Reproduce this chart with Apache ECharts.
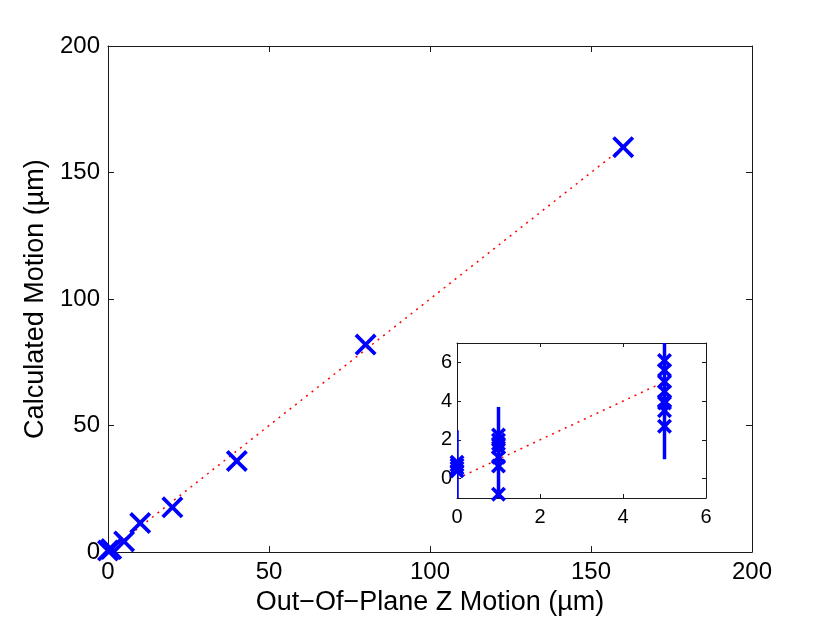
<!DOCTYPE html>
<html>
<head>
<meta charset="utf-8">
<script src="https://cdn.jsdelivr.net/npm/echarts@6/dist/echarts.min.js"></script>
<style>html,body{margin:0;padding:0;background:#fff;}#c{width:830px;height:621px;}</style>
</head>
<body>
<div id="c"></div>
<script>
// Main chart data (means)
const mainX = [0, 1, 5, 10, 20, 40, 80, 160];
const mainY = [0.6, 1.2, 4.2, 11.5, 17.7, 36, 82, 160];
// Fit line (dotted)
const fitX = [0, 160];
const fitY = [0, 160];
const insetFitX = [0, 5];
const insetFitY = [0, 5];
// Inset individual measurements
const insetPtX = [0, 0, 0, 0, 1, 1, 1, 1, 1, 1, 1, 5, 5, 5, 5, 5, 5, 5, 5];
const insetPtY = [0.4, 0.55, 0.7, 0.85, 2.25, 2.0, 1.8, 1.6, 1.1, 0.65, -0.8, 6.1, 5.6, 5.0, 4.5, 4.0, 3.9, 3.5, 2.7];
// Inset error bars
const errX = [0, 1, 5];
const errLo = [-1.2, -1.3, 1.0];
const errHi = [2.5, 3.7, 7.8];
// Tick labels
const mainTicks = [0, 50, 100, 150, 200];
const insetXTicks = [0, 2, 4, 6];
const insetYTicks = [0, 2, 4, 6];

const FONT = "'Liberation Sans', Arial, Helvetica, sans-serif";
const X_PATH = 'path://M0,12 L12,0 L50,38 L88,0 L100,12 L62,50 L100,88 L88,100 L50,62 L12,100 L0,88 L38,50 Z';
const X_PATH2 = 'path://M0,17 L17,0 L50,33 L83,0 L100,17 L67,50 L100,83 L83,100 L50,67 L17,100 L0,83 L33,50 Z';
const BLUE = '#0000ff';
const AXC = '#1a1a1a';

function zip(a, b) { return a.map((v, i) => [v, b[i]]); }

function mkAxis(opts) {
  return Object.assign({
    type: 'value',
    splitLine: { show: false },
    axisLine: { show: true, onZero: false, lineStyle: { color: AXC, width: 1 } },
    axisTick: { show: true, inside: true, length: 6, lineStyle: { color: AXC, width: 1 } },
    axisLabel: { show: true, color: '#000', fontSize: 24, fontFamily: FONT, margin: 8,
      customValues: mainTicks }
  }, opts);
}

const chart = echarts.init(document.getElementById('c'), null, { renderer: 'canvas' });
const option = {
  backgroundColor: '#fff',
  animation: false,
  grid: [
    { left: 108, top: 46, width: 644, height: 509, containLabel: false },
    { left: 457, top: 343, width: 249, height: 155, containLabel: false, show: true, backgroundColor: '#fff', borderWidth: 0 }
  ],
  xAxis: [
    mkAxis({ gridIndex: 0, position: 'bottom', min: 0, max: 200, interval: 50,
      name: 'Out\u2212Of\u2212Plane Z Motion (\u00b5m)', nameLocation: 'middle', nameGap: 36,
      nameTextStyle: { color: '#000', fontSize: 27, fontFamily: FONT } }),
    mkAxis({ gridIndex: 0, position: 'top', min: 0, max: 200, interval: 50, axisLabel: { show: false } }),
    mkAxis({ gridIndex: 1, position: 'bottom', min: 0, max: 6, interval: 2,
      axisTick: { show: true, inside: true, length: 4, lineStyle: { color: AXC } },
      axisLabel: { show: true, color: '#000', fontSize: 20, fontFamily: FONT, margin: 9, customValues: insetXTicks } }),
    mkAxis({ gridIndex: 1, position: 'top', min: 0, max: 6, interval: 2,
      axisTick: { show: true, inside: true, length: 4, lineStyle: { color: AXC } },
      axisLabel: { show: false } })
  ],
  yAxis: [
    mkAxis({ gridIndex: 0, position: 'left', min: 0, max: 200, interval: 50,
      name: 'Calculated Motion (\u00b5m)', nameLocation: 'middle', nameGap: 59, nameRotate: 90,
      nameTextStyle: { color: '#000', fontSize: 27, fontFamily: FONT } }),
    mkAxis({ gridIndex: 0, position: 'right', min: 0, max: 200, interval: 50, axisLabel: { show: false } }),
    mkAxis({ gridIndex: 1, position: 'left', min: -1, max: 7,
      axisTick: { show: true, inside: true, length: 4, customValues: insetYTicks, lineStyle: { color: AXC } },
      axisLabel: { show: true, color: '#000', fontSize: 20, fontFamily: FONT, margin: 5, customValues: insetYTicks } }),
    mkAxis({ gridIndex: 1, position: 'right', min: -1, max: 7,
      axisTick: { show: true, inside: true, length: 4, customValues: insetYTicks, lineStyle: { color: AXC } },
      axisLabel: { show: false } })
  ],
  series: [
    { type: 'line', xAxisIndex: 0, yAxisIndex: 0, data: zip(fitX, fitY), symbol: 'none', z: 2,
      lineStyle: { color: '#ff0000', width: 1.5, type: [2, 5] } },
    { type: 'scatter', xAxisIndex: 0, yAxisIndex: 0, data: zip(mainX, mainY), symbol: X_PATH, symbolSize: 22, z: 3,
      itemStyle: { color: BLUE, opacity: 1 } },
    { type: 'line', xAxisIndex: 2, yAxisIndex: 2, data: zip(insetFitX, insetFitY), symbol: 'none', z: 4,
      lineStyle: { color: '#ff0000', width: 1.5, type: [2, 5] } },
    { type: 'custom', xAxisIndex: 2, yAxisIndex: 2, clip: true, z: 5,
      data: errX.map((x, i) => [x, errLo[i], errHi[i]]),
      renderItem: function (params, api) {
        const p1 = api.coord([api.value(0), api.value(1)]);
        const p2 = api.coord([api.value(0), api.value(2)]);
        return { type: 'line', shape: { x1: p1[0], y1: p1[1], x2: p2[0], y2: p2[1] },
          style: { stroke: BLUE, lineWidth: 3.5 } };
      } },
    { type: 'scatter', xAxisIndex: 2, yAxisIndex: 2, data: zip(insetPtX, insetPtY), symbol: X_PATH2, symbolSize: 15, z: 6,
      clip: false, itemStyle: { color: BLUE, opacity: 1 } }
  ]
};
chart.setOption(option);
</script>
</body>
</html>
